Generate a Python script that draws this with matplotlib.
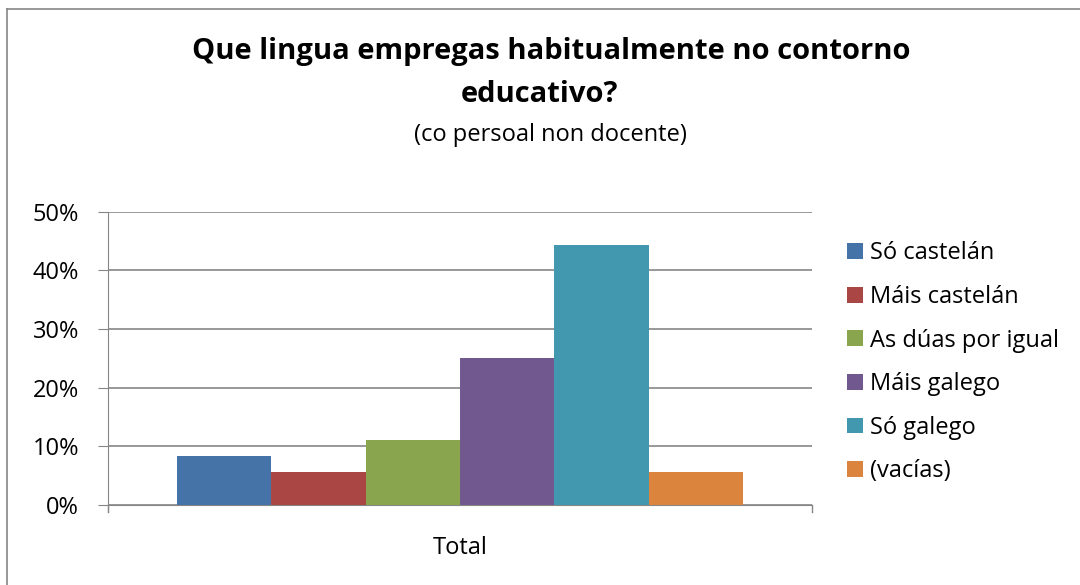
import matplotlib
matplotlib.use("Agg")
import matplotlib.pyplot as plt
from matplotlib.lines import Line2D
from matplotlib.ticker import PercentFormatter

categories = ["Total"]
series_names = ["Só castelán", "Máis castelán", "As dúas por igual", "Máis galego", "Só galego", "(vacías)"]
series_values = [8.3, 5.6, 11.1, 25.0, 44.4, 5.6]
series_colors = ["#4572A7", "#AA4643", "#89A54E", "#71588F", "#4198AF", "#DB843D"]
yticks = [0, 10, 20, 30, 40, 50]

plt.rcParams['font.family'] = ['Open Sans', 'DejaVu Sans']

fig = plt.figure(figsize=(10.8, 5.85), dpi=100)
ax = fig.add_axes([108/1080, 1 - 505/585, (812-108)/1080, (505-211.7)/585])

n = len(series_names)
width = 0.134
start = 0.5 - width * n / 2
for i, (name, val, col) in enumerate(zip(series_names, series_values, series_colors)):
    ax.bar(start + width * (i + 0.5), val, width=width, color=col, label=name, zorder=3)

ax.set_xlim(0, 1)
ax.set_ylim(0, 50)
ax.set_yticks(yticks)
ax.yaxis.set_major_formatter(PercentFormatter(decimals=0))
ax.set_xticks([0.5])
ax.set_xticklabels(categories)
ax.tick_params(axis='x', length=0, labelsize=17, pad=22)
ax.tick_params(axis='y', length=7, color='#868686', labelsize=17, pad=14, direction='out')
ax.grid(axis='y', color='#868686', linewidth=1.2, zorder=0)
for s in ['top', 'right']:
    ax.spines[s].set_visible(False)
ax.spines['left'].set_color('#868686')
ax.spines['bottom'].set_color('#868686')
ax.spines['left'].set_bounds(-1.2, 50)
# end tick marks on category axis
for xv in [0, 1]:
    ax.plot([xv, xv], [0, -1.2], color='#868686', lw=1, clip_on=False, zorder=4)

fig.text(551/1080, 1 - 51/585, "Que lingua empregas habitualmente no contorno", ha='center', va='center',
         fontsize=21, fontweight='bold')
fig.text(540/1080, 1 - 95/585, "educativo?", ha='center', va='center', fontsize=21, fontweight='bold')
fig.text(550/1080, 1 - 135/585, "(co persoal non docente)", ha='center', va='center', fontsize=17)

leg = fig.legend(loc='upper left', bbox_to_anchor=(838/1080, 1 - 232/585), frameon=False,
                 fontsize=17, handlelength=0.65, handleheight=0.65, handletextpad=0.3,
                 labelspacing=0.83, borderaxespad=0)

# outer border (cropped on right/bottom)
fig.add_artist(Line2D([7/1080, 7/1080], [0, 1 - 9/585], color='#868686', lw=1.2, transform=fig.transFigure))
fig.add_artist(Line2D([7/1080, 1], [1 - 9/585, 1 - 9/585], color='#868686', lw=1.2, transform=fig.transFigure))

fig.savefig("out.png", dpi=100)
